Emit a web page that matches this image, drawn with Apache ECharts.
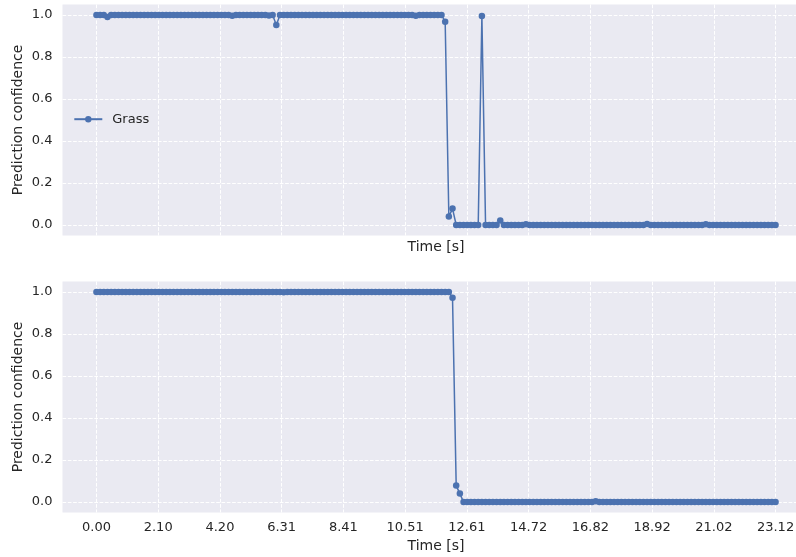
<!DOCTYPE html>
<html><head><meta charset="utf-8">
<script src="https://cdn.jsdelivr.net/npm/echarts@6/dist/echarts.min.js"></script>
<style>html,body{margin:0;padding:0;background:#fff}#c{width:796px;height:557px}</style>
</head><body><div id="c"></div>
<script>
// Time stamps of the frames [s]
const TIME = [
  0, 0.125, 0.25, 0.375, 0.5, 0.625, 0.75, 0.875,
  1, 1.125, 1.25, 1.375, 1.5, 1.625, 1.75, 1.875,
  2, 2.125, 2.25, 2.375, 2.5, 2.625, 2.75, 2.875,
  3, 3.125, 3.25, 3.375, 3.5, 3.625, 3.75, 3.875,
  4, 4.125, 4.25, 4.375, 4.5, 4.625, 4.75, 4.875,
  5, 5.125, 5.25, 5.375, 5.5, 5.625, 5.75, 5.875,
  6, 6.125, 6.25, 6.375, 6.5, 6.625, 6.75, 6.875,
  7, 7.125, 7.25, 7.375, 7.5, 7.625, 7.75, 7.875,
  8, 8.125, 8.25, 8.375, 8.5, 8.625, 8.75, 8.875,
  9, 9.125, 9.25, 9.375, 9.5, 9.625, 9.75, 9.875,
  10, 10.125, 10.25, 10.375, 10.5, 10.625, 10.75, 10.875,
  11, 11.125, 11.25, 11.375, 11.5, 11.625, 11.75, 11.875,
  12, 12.125, 12.25, 12.375, 12.5, 12.625, 12.75, 12.875,
  13, 13.125, 13.25, 13.375, 13.5, 13.625, 13.75, 13.875,
  14, 14.125, 14.25, 14.375, 14.5, 14.625, 14.75, 14.875,
  15, 15.125, 15.25, 15.375, 15.5, 15.625, 15.75, 15.875,
  16, 16.125, 16.25, 16.375, 16.5, 16.625, 16.75, 16.875,
  17, 17.125, 17.25, 17.375, 17.5, 17.625, 17.75, 17.875,
  18, 18.125, 18.25, 18.375, 18.5, 18.625, 18.75, 18.875,
  19, 19.125, 19.25, 19.375, 19.5, 19.625, 19.75, 19.875,
  20, 20.125, 20.25, 20.375, 20.5, 20.625, 20.75, 20.875,
  21, 21.125, 21.25, 21.375, 21.5, 21.625, 21.75, 21.875,
  22, 22.125, 22.25, 22.375, 22.5, 22.625, 22.75, 22.875,
  23, 23.125
];

// Top panel: raw prediction confidence for "Grass"
const TOP_CONF = [
  1, 1, 1, 0.99, 1, 1, 1, 1, 1, 1,
  1, 1, 1, 1, 1, 1, 1, 1, 1, 1,
  1, 1, 1, 1, 1, 1, 1, 1, 1, 1,
  1, 1, 1, 1, 1, 1, 1, 0.997, 1, 1,
  1, 1, 1, 1, 1, 1, 1, 0.998, 1, 0.952,
  1, 1, 1, 1, 1, 1, 1, 1, 1, 1,
  1, 1, 1, 1, 1, 1, 1, 1, 1, 1,
  1, 1, 1, 1, 1, 1, 1, 1, 1, 1,
  1, 1, 1, 1, 1, 1, 1, 0.997, 1, 1,
  1, 1, 1, 1, 1, 0.968, 0.04, 0.078, 0, 0,
  0, 0, 0, 0, 0, 0.995, 0, 0, 0, 0,
  0.022, 0, 0, 0, 0, 0, 0, 0.004, 0, 0,
  0, 0, 0, 0, 0, 0, 0, 0, 0, 0,
  0, 0, 0, 0, 0, 0, 0, 0, 0, 0,
  0, 0, 0, 0, 0, 0, 0, 0, 0, 0,
  0.005, 0, 0, 0, 0, 0, 0, 0, 0, 0,
  0, 0, 0, 0, 0, 0, 0.003, 0, 0, 0,
  0, 0, 0, 0, 0, 0, 0, 0, 0, 0,
  0, 0, 0, 0, 0, 0
];

// Bottom panel: smoothed prediction confidence
const BOTTOM_CONF = [
  1, 1, 1, 1, 1, 1, 1, 1, 1, 1,
  1, 1, 1, 1, 1, 1, 1, 1, 1, 1,
  1, 1, 1, 1, 1, 1, 1, 1, 1, 1,
  1, 1, 1, 1, 1, 1, 1, 1, 1, 1,
  1, 1, 1, 1, 1, 1, 1, 1, 1, 1,
  1, 0.999, 1, 1, 1, 1, 1, 1, 1, 1,
  1, 1, 1, 1, 1, 1, 1, 1, 1, 1,
  1, 1, 1, 1, 1, 1, 1, 1, 1, 1,
  1, 1, 1, 1, 1, 1, 1, 1, 1, 1,
  1, 1, 1, 1, 1, 1, 1, 0.973, 0.078, 0.04,
  0, 0, 0, 0, 0, 0, 0, 0, 0, 0,
  0, 0, 0, 0, 0, 0, 0, 0, 0, 0,
  0, 0, 0, 0, 0, 0, 0, 0, 0, 0,
  0, 0, 0, 0, 0, 0, 0.003, 0, 0, 0,
  0, 0, 0, 0, 0, 0, 0, 0, 0, 0,
  0, 0, 0, 0, 0, 0, 0, 0, 0, 0,
  0, 0, 0, 0, 0, 0, 0, 0, 0, 0,
  0, 0, 0, 0, 0, 0, 0, 0, 0, 0,
  0, 0, 0, 0, 0, 0
];

const X_TICKS = [0, 2.1022727, 4.2045455, 6.3068182, 8.4090909, 10.5113636,
  12.6136364, 14.7159091, 16.8181818, 18.9204545, 21.0227273, 23.125];
const X_TICK_LABELS = ['0.00', '2.10', '4.20', '6.31', '8.41', '10.51',
  '12.61', '14.72', '16.82', '18.92', '21.02', '23.12'];
const Y_TICKS = [0, 0.2, 0.4, 0.6, 0.8, 1.0];
const Y_TICK_LABELS = ['0.0', '0.2', '0.4', '0.6', '0.8', '1.0'];

const SERIES_NAME = 'Grass';
const X_NAME = 'Time [s]';
const Y_NAME = 'Prediction confidence';

function lookup(ticks, labels, v) {
  let best = 0;
  for (let i = 1; i < ticks.length; i++) {
    if (Math.abs(ticks[i] - v) < Math.abs(ticks[best] - v)) best = i;
  }
  return labels[best];
}

const FONT = 'DejaVu Sans';
const TXT = '#262626';
const BLUE = '#4C72B0';
const X_MIN = -1.15625, X_MAX = 24.28125;

function xAxis(gridIndex, showLabels, nameGap) {
  return {
    type: 'value', gridIndex, min: X_MIN, max: X_MAX,
    name: X_NAME, nameLocation: 'middle', nameGap, nameMoveOverlap: false,
    nameTextStyle: { fontFamily: FONT, fontSize: 14, color: TXT },
    axisLine: { show: false }, axisTick: { show: false, customValues: X_TICKS },
    axisLabel: {
      show: showLabels, customValues: X_TICKS, margin: 9,
      fontFamily: FONT, fontSize: 13, color: TXT,
      formatter: v => lookup(X_TICKS, X_TICK_LABELS, v)
    },
    splitLine: { show: true, lineStyle: { color: '#ffffff', width: 1, type: [3.7, 1.6] } }
  };
}
function yAxis(gridIndex) {
  return {
    type: 'value', gridIndex, min: -0.05, max: 1.05,
    name: Y_NAME, nameLocation: 'middle', nameGap: 37, nameMoveOverlap: false,
    nameTextStyle: { fontFamily: FONT, fontSize: 14, color: TXT },
    axisLine: { show: false }, axisTick: { show: false, customValues: Y_TICKS },
    axisLabel: {
      customValues: Y_TICKS, margin: 10,
      fontFamily: FONT, fontSize: 13, color: TXT,
      formatter: v => lookup(Y_TICKS, Y_TICK_LABELS, v)
    },
    splitLine: { show: true, lineStyle: { color: '#ffffff', width: 1, type: [3.7, 1.6] } }
  };
}
function series(name, xi, values) {
  return {
    type: 'line', name, xAxisIndex: xi, yAxisIndex: xi,
    data: TIME.map((t, i) => [t, values[i]]),
    symbol: 'circle', symbolSize: 6.5, showSymbol: true, showAllSymbol: true,
    lineStyle: { color: BLUE, width: 1.5 }, itemStyle: { color: BLUE },
    emphasis: { disabled: true }, silent: true, clip: false
  };
}

const chart = echarts.init(document.getElementById('c'), null, { renderer: 'canvas' });
chart.setOption({
  animation: false,
  backgroundColor: '#ffffff',
  grid: [
    { left: 62.5, top: 4.5, width: 747, height: 231, show: true, backgroundColor: '#EAEAF2', borderWidth: 0, containLabel: false, outerBoundsMode: 'none' },
    { left: 62.5, top: 281.5, width: 747, height: 231, show: true, backgroundColor: '#EAEAF2', borderWidth: 0, containLabel: false, outerBoundsMode: 'none' }
  ],
  xAxis: [xAxis(0, false, 4.5), xAxis(1, true, 26.5)],
  yAxis: [yAxis(0), yAxis(1)],
  legend: {
    data: [SERIES_NAME], left: 68.3, top: 107.7, padding: 5,
    itemWidth: 28, itemHeight: 8,
    textStyle: { fontFamily: FONT, fontSize: 13, color: TXT, padding: [0, 0, 0, 5] },
    selectedMode: false
  },
  series: [series(SERIES_NAME, 0, TOP_CONF), series(SERIES_NAME + ' (panel 2)', 1, BOTTOM_CONF)]
});
</script></body></html>
